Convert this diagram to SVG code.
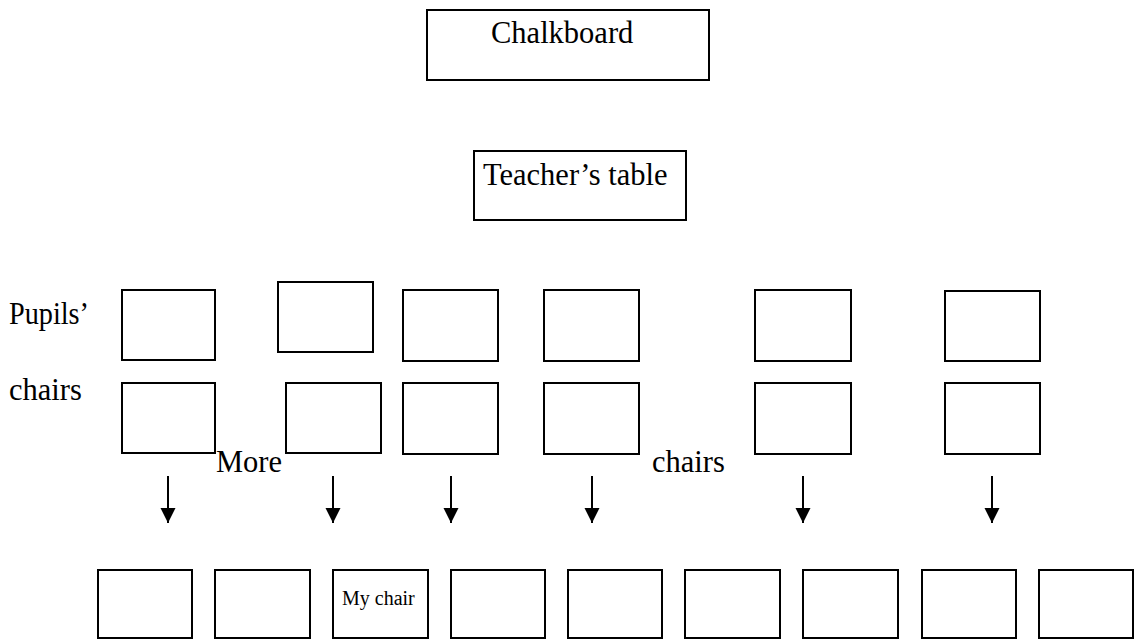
<svg xmlns="http://www.w3.org/2000/svg" width="1138" height="640" viewBox="0 0 1138 640">
<defs>
<marker id="ah" markerUnits="userSpaceOnUse" markerWidth="16" markerHeight="16" viewBox="0 0 16 16" refX="15" refY="7.5" orient="auto">
<path d="M0,0 L15,7.5 L0,15 z" fill="#000"/>
</marker>
</defs>
<style>
rect.b{fill:#fff;stroke:#000;stroke-width:2}
text{font-family:"Liberation Serif","Times New Roman",serif;fill:#000;font-size:30.5px}
text.s{font-size:20px}
line.a{stroke:#000;stroke-width:2;marker-end:url(#ah)}
</style>
<rect width="1138" height="640" fill="#fff"/>
<g id="chalkboard"><rect class="b" x="427" y="10" width="282" height="70"/><text x="491" y="43">Chalkboard</text></g>
<g id="teacher-table"><rect class="b" x="474" y="151" width="212" height="69"/><text x="483" y="185">Teacher’s table</text></g>
<g id="label-pupils"><text x="9" y="324" textLength="80" lengthAdjust="spacingAndGlyphs">Pupils’</text><text x="9" y="400">chairs</text></g>
<g id="label-more"><text x="216" y="472">More</text></g>
<g id="label-chairs"><text x="652" y="472">chairs</text></g>
<g id="r1c1"><rect class="b" x="122" y="290" width="93" height="70"/></g>
<g id="r1c2"><rect class="b" x="278" y="282" width="95" height="70"/></g>
<g id="r1c3"><rect class="b" x="403" y="290" width="95" height="71"/></g>
<g id="r1c4"><rect class="b" x="544" y="290" width="95" height="71"/></g>
<g id="r1c5"><rect class="b" x="755" y="290" width="96" height="71"/></g>
<g id="r1c6"><rect class="b" x="945" y="291" width="95" height="70"/></g>
<g id="r2c1"><rect class="b" x="122" y="383" width="93" height="70"/></g>
<g id="r2c2"><rect class="b" x="286" y="383" width="95" height="70"/></g>
<g id="r2c3"><rect class="b" x="403" y="383" width="95" height="71"/></g>
<g id="r2c4"><rect class="b" x="544" y="383" width="95" height="71"/></g>
<g id="r2c5"><rect class="b" x="755" y="383" width="96" height="71"/></g>
<g id="r2c6"><rect class="b" x="945" y="383" width="95" height="71"/></g>
<g id="b1"><rect class="b" x="98" y="570" width="94" height="68"/></g>
<g id="b2"><rect class="b" x="215" y="570" width="95" height="68"/></g>
<g id="b3-my-chair"><rect class="b" x="333" y="570" width="95" height="68"/><text class="s" x="342" y="605">My chair</text></g>
<g id="b4"><rect class="b" x="451" y="570" width="94" height="68"/></g>
<g id="b5"><rect class="b" x="568" y="570" width="94" height="68"/></g>
<g id="b6"><rect class="b" x="685" y="570" width="95" height="68"/></g>
<g id="b7"><rect class="b" x="803" y="570" width="95" height="68"/></g>
<g id="b8"><rect class="b" x="922" y="570" width="94" height="68"/></g>
<g id="b9"><rect class="b" x="1039" y="570" width="94" height="68"/></g>
<g id="connectors">
<line class="a" x1="168" y1="476" x2="168" y2="523"/>
<line class="a" x1="333" y1="476" x2="333" y2="523"/>
<line class="a" x1="451" y1="476" x2="451" y2="523"/>
<line class="a" x1="592" y1="476" x2="592" y2="523"/>
<line class="a" x1="803" y1="476" x2="803" y2="523"/>
<line class="a" x1="992" y1="476" x2="992" y2="523"/>
</g>
</svg>
